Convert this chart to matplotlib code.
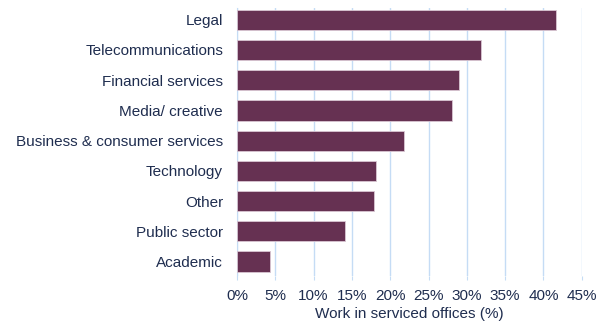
import matplotlib.pyplot as plt
import numpy as np

# Sectors and share of work in serviced offices
sectors = ['Legal', 'Telecommunications', 'Financial services', 'Media/ creative',
           'Business & consumer services', 'Technology', 'Other', 'Public sector', 'Academic']
share = [41.6, 31.8, 29.0, 28.1, 21.8, 18.2, 17.9, 14.1, 4.3]
xticks = [0, 5, 10, 15, 20, 25, 30, 35, 40, 45]

bar_color = '#663152'
grid_color = '#c5dcf5'
text_color = '#1f2d4f'

plt.rcParams['font.family'] = ['Liberation Sans', 'DejaVu Sans']

fig = plt.figure(figsize=(6.05, 3.26), dpi=100)
ax = fig.add_axes([237 / 605, 50 / 326, (581.7 - 237) / 605, (318 - 50) / 326])

y = np.arange(len(sectors))[::-1]
ax.barh(y, share, height=0.667, color=bar_color, edgecolor='#d9c6d2', linewidth=0.6, zorder=3)

ax.set_xlim(0, 45)
ax.set_ylim(-0.48, 8.39)
ax.set_xticks(xticks)
ax.set_xticklabels([f'{t}%' for t in xticks], color=text_color, fontsize=11)
ax.set_yticks(y)
ax.set_yticklabels(sectors, color=text_color, fontsize=11)
ax.set_xlabel('Work in serviced offices (%)', color=text_color, fontsize=11, labelpad=3)

ax.grid(axis='x', color=grid_color, linewidth=1, zorder=0)
for side in ['top', 'right', 'bottom']:
    ax.spines[side].set_visible(False)
ax.spines['left'].set_color(grid_color)
ax.tick_params(axis='x', length=3, color=grid_color, pad=6)
ax.tick_params(axis='y', length=0, pad=10)

fig.savefig('out.png', dpi=100)
